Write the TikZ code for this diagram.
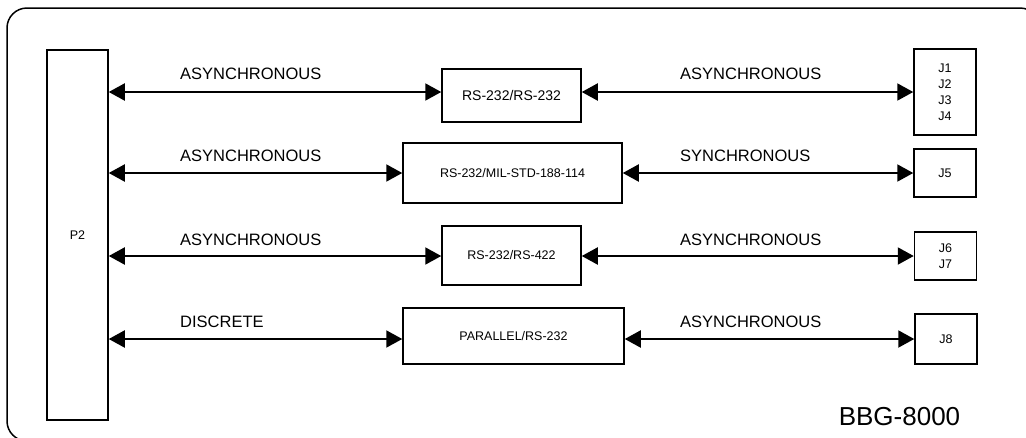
\documentclass[tikz,border=0pt]{standalone}
\usepackage{fontspec}
\setmainfont{Liberation Sans}
\usetikzlibrary{arrows.meta}
\tikzset{blk/.style={draw,line width=1.5pt,inner sep=0pt,align=center,font=\fontsize{12.5}{16}\selectfont},
lbl/.style={anchor=base west,inner sep=0pt,font=\fontsize{16.5}{20}\selectfont},
link/.style={line width=2pt,{Triangle[length=16pt,width=17pt]}-{Triangle[length=16pt,width=17pt]}}}
\begin{document}
\begin{tikzpicture}[x=1pt,y=-1pt]
\useasboundingbox (0,0) rectangle (1026,437);
\clip (0,0) rectangle (1026,437);
\draw [line width=1.5pt,rounded corners=20pt] (7,8) rectangle (1040,441);
\node[blk,minimum width=61pt,minimum height=370pt] (P2) at (77.5,235) {P2};
\node[blk,minimum width=139pt,minimum height=53pt,font=\fontsize{14}{16}\selectfont] (R1) at (511.5,95.5) {RS-232/RS-232};
\node[blk,minimum width=219pt,minimum height=60pt] (M2) at (512.5,173) {RS-232/MIL-STD-188-114};
\node[blk,minimum width=139pt,minimum height=59pt] (R3) at (511.5,255.5) {RS-232/RS-422};
\node[blk,minimum width=221pt,minimum height=56pt] (P4) at (513.5,336) {PARALLEL/RS-232};
\node[blk,minimum width=62pt,minimum height=86pt] (J14) at (945,92) {J1\\J2\\J3\\J4};
\node[blk,minimum width=62pt,minimum height=48pt] (J5) at (945,173) {J5};
\node[blk,minimum width=62pt,minimum height=48pt] (J67) at (945.5,256) {J6\\J7};
\node[blk,minimum width=62pt,minimum height=50pt] (J8) at (946,339) {J8};
\draw[link] (P2.east |- J14) -- (R1.west |- J14);
\draw[link] (R1.east |- J14) -- (J14.west);
\draw[link] (P2.east |- J5) -- (M2.west |- J5);
\draw[link] (M2.east |- J5) -- (J5.west);
\draw[link] (P2.east |- J67) -- (R3.west |- J67);
\draw[link] (R3.east |- J67) -- (J67.west);
\draw[link] (P2.east |- J8) -- (P4.west |- J8);
\draw[link] (P4.east |- J8) -- (J8.west);
\node[lbl] (l1) at (180,79) {ASYNCHRONOUS};
\node[lbl] (r1) at (680,79) {ASYNCHRONOUS};
\node[lbl] (l2) at (180,161) {ASYNCHRONOUS};
\node[lbl] (r2) at (680,161) {SYNCHRONOUS};
\node[lbl] (l3) at (180,245) {ASYNCHRONOUS};
\node[lbl] (r3) at (680,245) {ASYNCHRONOUS};
\node[lbl] (l4) at (180,327) {DISCRETE};
\node[lbl] (r4) at (680,327) {ASYNCHRONOUS};
\node[anchor=base,inner sep=0pt,font=\fontsize{26}{30}\selectfont] (bbg) at (899.5,425) {BBG-8000};
\end{tikzpicture}
\end{document}
